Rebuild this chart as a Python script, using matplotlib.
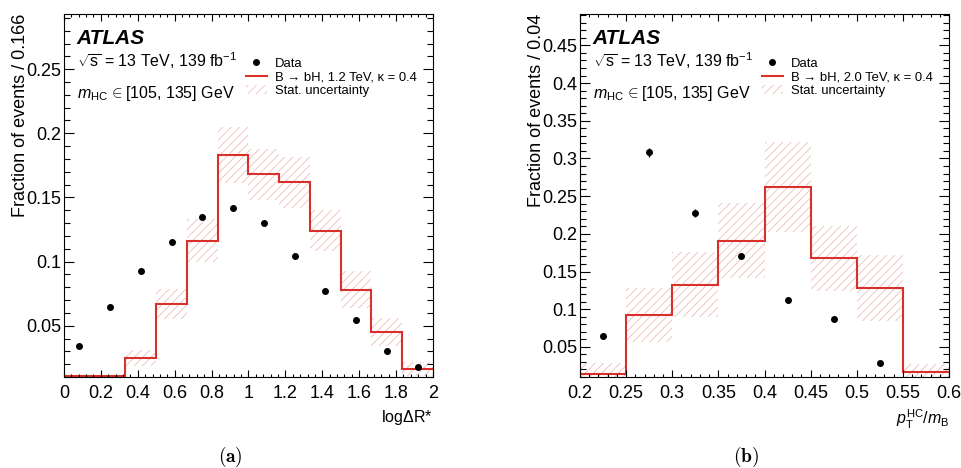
import matplotlib
matplotlib.use("Agg")
import matplotlib.pyplot as plt
import numpy as np
from matplotlib.ticker import MultipleLocator, FormatStrFormatter
from matplotlib.lines import Line2D
from matplotlib.patches import Patch

plt.rcParams['font.family'] = ['Liberation Sans', 'DejaVu Sans']
plt.rcParams['mathtext.fontset'] = 'custom'
plt.rcParams['mathtext.rm'] = 'Liberation Sans'
plt.rcParams['mathtext.it'] = 'Liberation Sans:italic'
plt.rcParams['mathtext.bf'] = 'Liberation Sans:bold'
plt.rcParams['hatch.linewidth'] = 0.6

# panel (a): log dR*
edges_a = np.linspace(0, 2, 13)
sig_a = [0.0105, 0.0105, 0.0248, 0.067, 0.1164, 0.183, 0.168, 0.1617, 0.124, 0.078, 0.0448, 0.0162]
sig_err_a = [0, 0, 0.0065, 0.012, 0.017, 0.022, 0.020, 0.020, 0.016, 0.0145, 0.011, 0.0052]
data_a = [0.0344, 0.0646, 0.0927, 0.115, 0.1346, 0.1416, 0.130, 0.1047, 0.0773, 0.0547, 0.0305, 0.0182]
data_err_a = [0.001] * 12

# panel (b): pT(HC)/mB
edges_b = np.linspace(0.2, 0.6, 9)
sig_b = [0.0146, 0.092, 0.1324, 0.191, 0.262, 0.1677, 0.1285, 0.0167]
sig_err_b = [0.0137, 0.036, 0.043, 0.050, 0.060, 0.043, 0.044, 0.010]
data_x_b = [0.225, 0.275, 0.325, 0.375, 0.425, 0.475, 0.525]
data_b = [0.0646, 0.308, 0.2274, 0.170, 0.1116, 0.0876, 0.0287]
data_err_b = [0.003, 0.006, 0.005, 0.004, 0.003, 0.003, 0.002]

red = '#d9302c'
hatch_col = '#eebcbc'

fig = plt.figure(figsize=(9.62, 4.68), dpi=100)
ax_a = fig.add_axes([0.0665, 0.1944, 0.3836, 0.7756])
ax_b = fig.add_axes([0.6029, 0.1944, 0.3836, 0.7756])


def draw(ax, edges, sig, sig_err, dx, dy, dyerr, sig_label, xlabel, ylabel,
         ylim, xmaj, xmin):
    edges = np.asarray(edges)
    sig = np.asarray(sig)
    sig_err = np.asarray(sig_err)
    centers = 0.5 * (edges[1:] + edges[:-1])
    widths = np.diff(edges)
    ax.bar(centers, 2 * sig_err, bottom=sig - sig_err, width=widths,
           fill=False, hatch='////', edgecolor=hatch_col, linewidth=0)
    ax.stairs(sig, edges, baseline=None, color=red, lw=1.5)
    ax.errorbar(dx, dy, yerr=dyerr, fmt='o', color='black', ms=4,
                elinewidth=1, capsize=0)
    ax.set_xlim(edges[0], edges[-1])
    ax.set_ylim(*ylim)
    ax.xaxis.set_major_locator(MultipleLocator(xmaj))
    ax.xaxis.set_minor_locator(MultipleLocator(xmin))
    ax.yaxis.set_major_locator(MultipleLocator(0.05))
    ax.yaxis.set_minor_locator(MultipleLocator(0.01))
    ax.xaxis.set_major_formatter(FormatStrFormatter('%g'))
    ax.yaxis.set_major_formatter(FormatStrFormatter('%g'))
    ax.tick_params(which='both', direction='in', top=True, right=True,
                   labelsize=13, width=0.8)
    ax.tick_params(axis='x', which='major', length=5, pad=6)
    ax.tick_params(axis='x', which='minor', length=2.5)
    ax.tick_params(axis='y', which='major', length=7.5, pad=2)
    ax.tick_params(axis='y', which='minor', length=4)
    for s in ax.spines.values():
        s.set_linewidth(0.8)
    ax.set_xlabel(xlabel, loc='right', fontsize=11.5, labelpad=4)
    ax.set_ylabel(ylabel, loc='top', fontsize=13)
    ax.yaxis.set_label_coords(-0.095, 1.0)

    ax.text(0.035, 0.917, 'ATLAS', transform=ax.transAxes, fontsize=15,
            fontweight='bold', fontstyle='italic', va='baseline')
    ax.text(0.035, 0.855, r'$\sqrt{\mathrm{s}}$ = 13 TeV, 139 fb$^{\mathrm{-1}}$',
            transform=ax.transAxes, fontsize=11.5, va='baseline')
    ax.text(0.035, 0.7675, r'$m_{\mathrm{HC}}\,\in$[105, 135] GeV',
            transform=ax.transAxes, fontsize=11.5, va='baseline')

    handles = [
        Line2D([], [], marker='o', ls='none', color='black', ms=4),
        Line2D([], [], color=red, lw=1.5),
        Patch(fill=False, hatch='////', edgecolor=hatch_col, linewidth=0),
    ]
    labels = ['Data', sig_label, 'Stat. uncertainty']
    ax.legend(handles, labels, loc='upper left', bbox_to_anchor=(0.493, 0.88),
              frameon=False, fontsize=9.4, borderpad=0, borderaxespad=0,
              handlelength=1.6, handletextpad=0.6, labelspacing=0.12)


draw(ax_a, edges_a, sig_a, sig_err_a,
     0.5 * (edges_a[1:] + edges_a[:-1]), data_a, data_err_a,
     'B \u2192 bH, 1.2 TeV, \u03ba = 0.4', r'log$\Delta$R*',
     'Fraction of events / 0.166', (0.01, 0.293), 0.2, 0.04)

draw(ax_b, edges_b, sig_b, sig_err_b, data_x_b, data_b, data_err_b,
     'B \u2192 bH, 2.0 TeV, \u03ba = 0.4',
     r'$p_{\mathrm{T}}^{\mathrm{HC}}/m_{\mathrm{B}}$',
     'Fraction of events / 0.04', (0.01, 0.4916), 0.05, 0.01)

fig.text(0.239, 1 - 457 / 468, r'$\mathbf{(a)}$', ha='center', va='center',
         fontsize=14, math_fontfamily='cm')
fig.text(0.775, 1 - 457 / 468, r'$\mathbf{(b)}$', ha='center', va='center',
         fontsize=14, math_fontfamily='cm')

fig.savefig('out.png', dpi=100)
